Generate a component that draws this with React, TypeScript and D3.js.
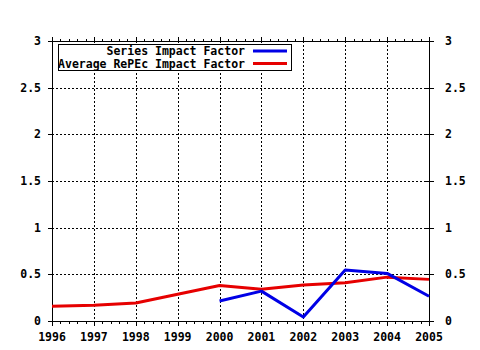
import React from "react";
import * as d3 from "d3";

const years = [1996, 1997, 1998, 1999, 2000, 2001, 2002, 2003, 2004, 2005];
const averageRepec = [0.157, 0.168, 0.193, 0.286, 0.38, 0.34, 0.386, 0.41, 0.47, 0.446];
const seriesYears = [2000, 2001, 2002, 2003, 2004, 2005];
const seriesImpact = [0.214, 0.32, 0.043, 0.546, 0.51, 0.265];
const yTicks = [0, 0.5, 1, 1.5, 2, 2.5, 3];
const yTickLabels = ["0", "0.5", "1", "1.5", "2", "2.5", "3"];
const legendLabels = ["Series Impact Factor", "Average RePEc Impact Factor"];

export default function App() {
  const W = 480, H = 350;
  const left = 52, right = 429, top = 41, bottom = 321;
  const x = d3.scaleLinear().domain([1996, 2005]).range([left, right]);
  const y = d3.scaleLinear().domain([0, 3]).range([bottom, top]);
  const line = d3.line<[number, number]>().x(d => x(d[0])).y(d => y(d[1]));
  const redPts: [number, number][] = years.map((yr, i) => [yr, averageRepec[i]]);
  const bluePts: [number, number][] = seriesYears.map((yr, i) => [yr, seriesImpact[i]]);
  const minor = d3.range(0, 46).map(i => 1996 + i / 5);
  const font = "'DejaVu Sans Mono', monospace";
  const blue = "#0000e6";
  const red = "#e60000";
  return (
    <svg width={W} height={H} style={{ position: "absolute", left: 0, top: 0, background: "#fff" }}
      fontFamily={font} fontWeight="bold" fontSize={11.5}>
      <rect x={0} y={0} width={W} height={H} fill="#fff" />
      {years.slice(1, -1).map(yr => (
        <line key={"gx" + yr} x1={Math.round(x(yr)) + 0.5} x2={Math.round(x(yr)) + 0.5} y1={top} y2={bottom}
          stroke="#000" strokeWidth={1} strokeDasharray="2,2" />
      ))}
      {yTicks.slice(1, -1).map(v => (
        <line key={"gy" + v} x1={left} x2={right} y1={Math.round(y(v)) + 0.5} y2={Math.round(y(v)) + 0.5}
          stroke="#000" strokeWidth={1} strokeDasharray="2,2" />
      ))}
      <line x1={left} x2={right + 0.5} y1={top + 0.5} y2={top + 0.5} stroke="#000" />
      <line x1={left} x2={right + 0.5} y1={bottom + 0.5} y2={bottom + 0.5} stroke="#000" />
      <line x1={left + 0.5} x2={left + 0.5} y1={top} y2={bottom + 1} stroke="#000" />
      <line x1={right + 0.5} x2={right + 0.5} y1={top} y2={bottom + 1} stroke="#000" />
      {minor.map((v, i) => {
        const px = Math.round(x(v)) + 0.5;
        const len = i % 5 === 0 ? 5 : 3;
        return (
          <g key={"mt" + i}>
            <line x1={px} x2={px} y1={bottom} y2={bottom + len} stroke="#000" />
            <line x1={px} x2={px} y1={top + 1} y2={top + 1 - len} stroke="#000" />
          </g>
        );
      })}
      {yTicks.map(v => {
        const py = Math.round(y(v)) + 0.5;
        return (
          <g key={"yt" + v}>
            <line x1={left - 4} x2={left} y1={py} y2={py} stroke="#000" />
            <line x1={right - 4} x2={right + 5} y1={py} y2={py} stroke="#000" />
          </g>
        );
      })}
      {yTicks.map((v, i) => (
        <g key={"yl" + v}>
          <text x={41} y={y(v) + 4} textAnchor="end">{yTickLabels[i]}</text>
          <text x={445} y={y(v) + 4} textAnchor="start">{yTickLabels[i]}</text>
        </g>
      ))}
      {years.map(yr => (
        <text key={"xl" + yr} x={x(yr)} y={341} textAnchor="middle">{yr}</text>
      ))}
      <path d={line(redPts) || ""} fill="none" stroke={red} strokeWidth={3} strokeLinejoin="round" />
      <path d={line(bluePts) || ""} fill="none" stroke={blue} strokeWidth={3} strokeLinejoin="round" />
      <rect x={58.5} y={44.5} width={233} height={26} fill="#fff" stroke="#000" />
      <text x={245} y={55} textAnchor="end">{legendLabels[0]}</text>
      <text x={245} y={68} textAnchor="end">{legendLabels[1]}</text>
      <line x1={253} x2={287} y1={51} y2={51} stroke={blue} strokeWidth={3} />
      <line x1={253} x2={287} y1={63.5} y2={63.5} stroke={red} strokeWidth={3} />
    </svg>
  );
}
